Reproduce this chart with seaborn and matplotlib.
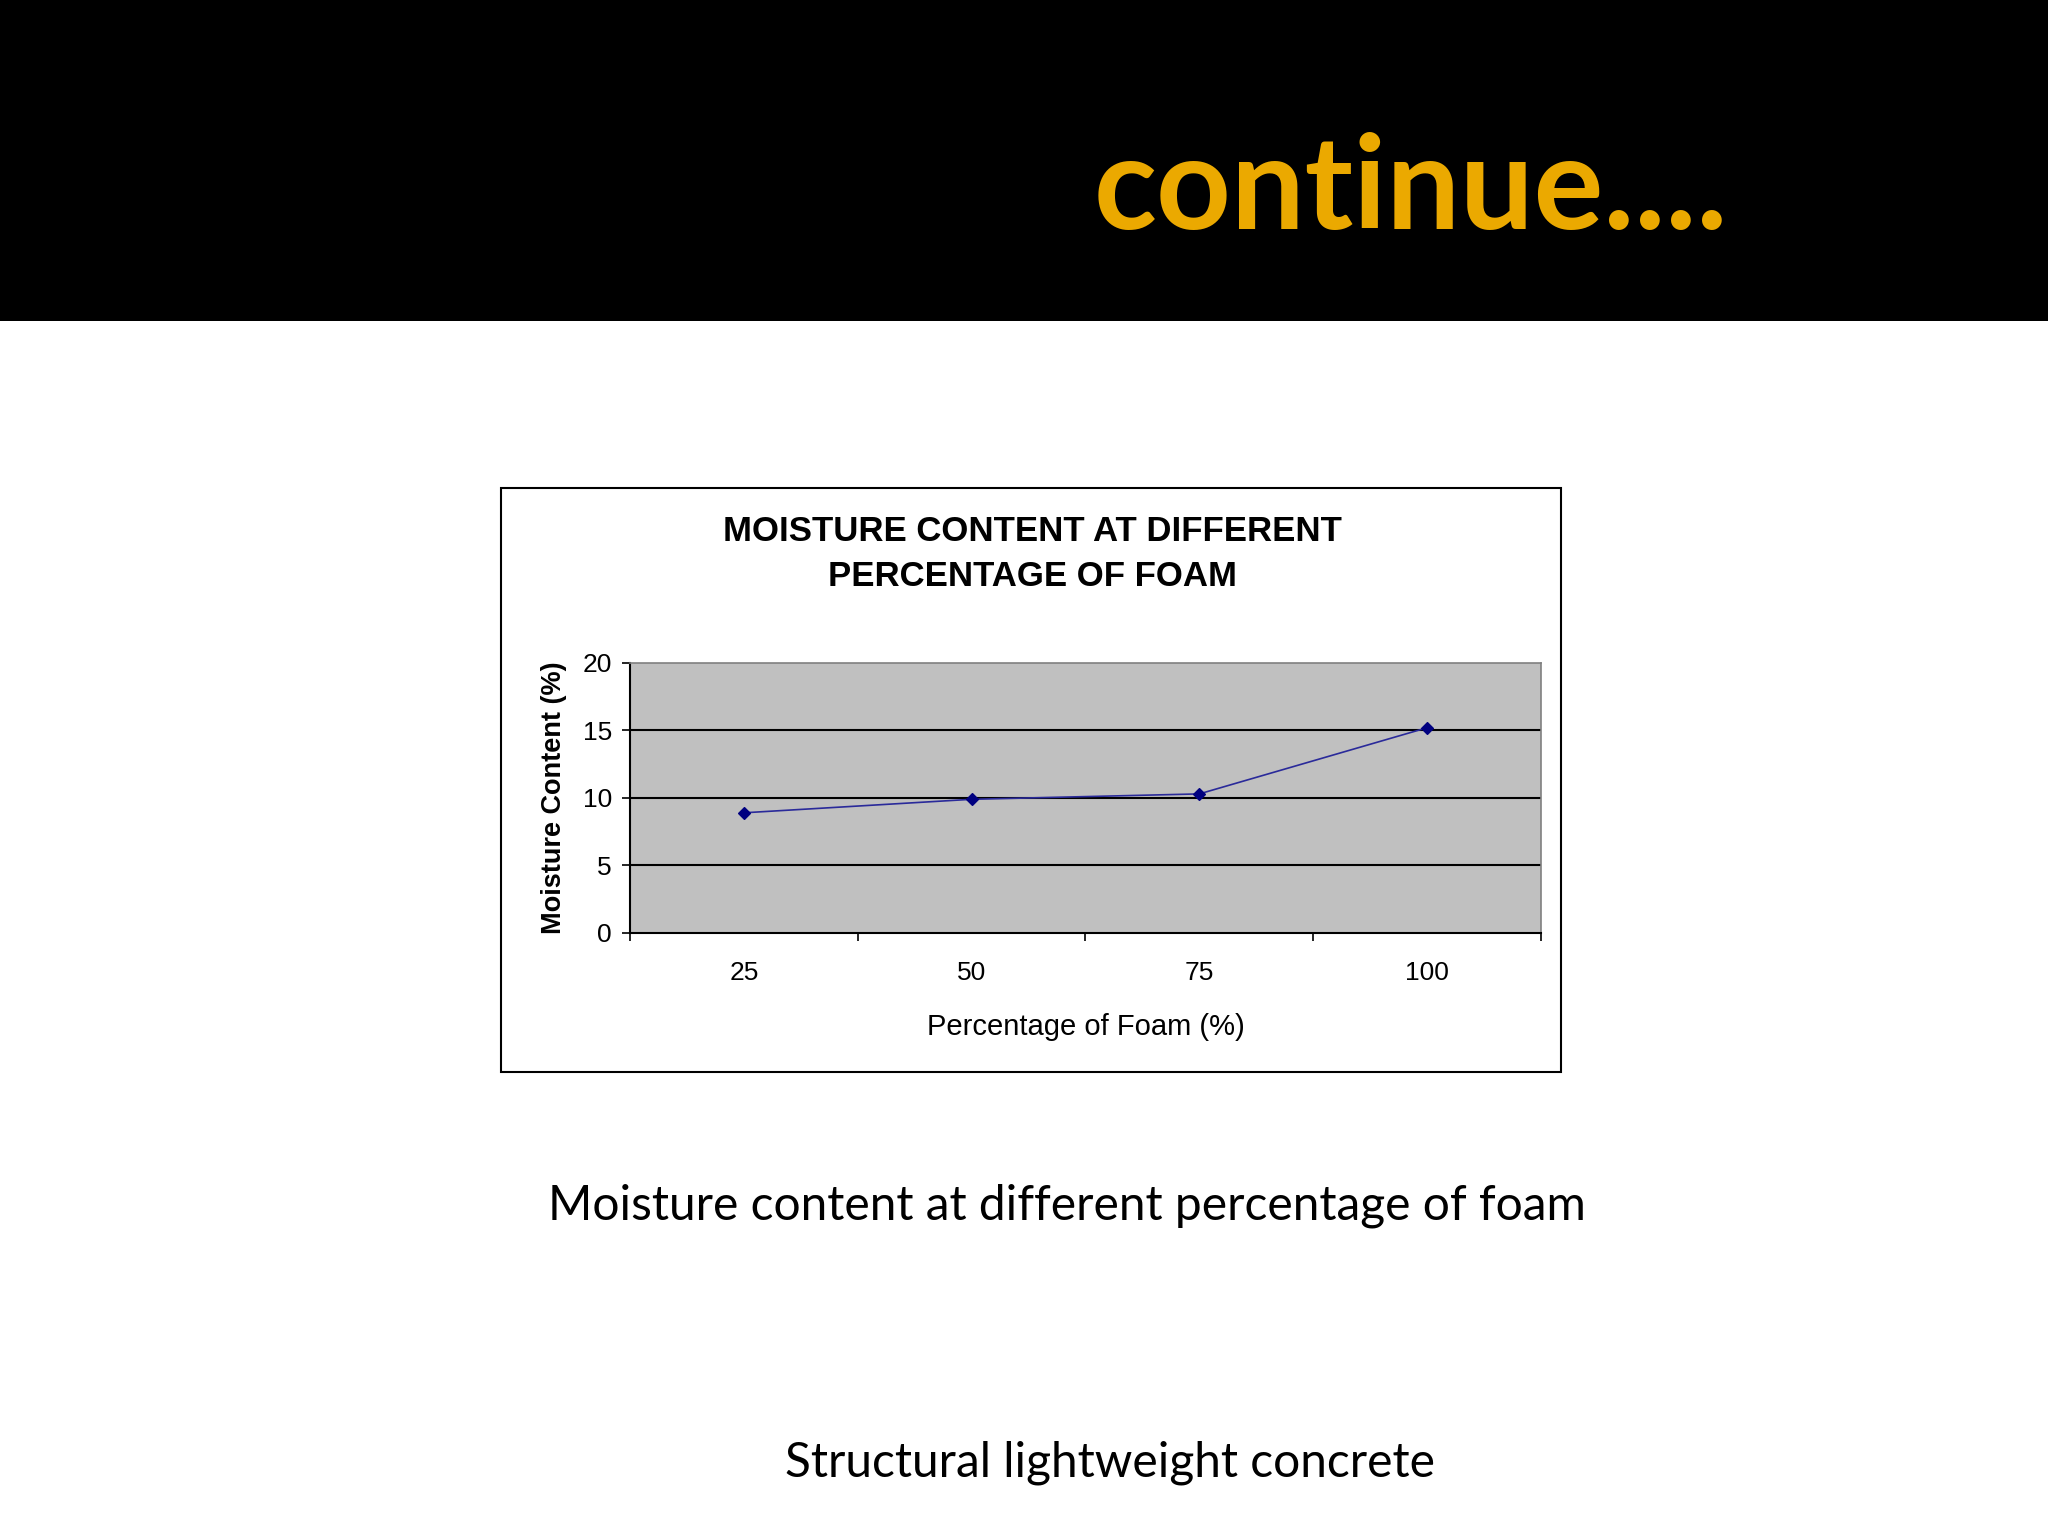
import matplotlib
matplotlib.use("Agg")
import matplotlib.pyplot as plt
from matplotlib.patches import Rectangle
import seaborn as sns

# data
foam_pct = ["25", "50", "75", "100"]
moisture = [8.9, 9.9, 10.3, 15.2]
y_ticks = [0, 5, 10, 15, 20]

slide_title = "continue...."
chart_title = "MOISTURE CONTENT AT DIFFERENT\nPERCENTAGE OF FOAM"
x_label = "Percentage of Foam (%)"
y_label = "Moisture Content (%)"
caption = "Moisture content at different percentage of foam"
footer = "Structural lightweight concrete"

sns.set_theme(style="white")
plt.rcParams["font.family"] = ["Liberation Sans", "DejaVu Sans"]
plt.rcParams["text.color"] = "black"
plt.rcParams["axes.labelcolor"] = "black"
plt.rcParams["xtick.color"] = "black"
plt.rcParams["ytick.color"] = "black"

fig = plt.figure(figsize=(20.48, 15.36), dpi=100)
fig.patch.set_facecolor("white")

# black header band
fig.patches.append(Rectangle((0, 0.791), 1, 0.209, transform=fig.transFigure,
                             facecolor="black", edgecolor="none", zorder=-2))
fig.text(0.689, 0.8755, slide_title, color="#EBA900", fontsize=94,
         fontweight="bold", family="Lato", ha="center", va="center")

# chart frame
fig.patches.append(Rectangle((0.2446, 0.3021), 0.5176, 0.3802, transform=fig.transFigure,
                             facecolor="white", edgecolor="black", linewidth=1.5, zorder=-2))

ax = fig.add_axes([0.3076, 0.3926, 0.4448, 0.1758])
ax.set_facecolor("#C0C0C0")
sns.pointplot(x=foam_pct, y=moisture, ax=ax, color="#000080", markers="D",
              markersize=6.5, linewidth=1.2, errorbar=None)
ax.lines[0].set_color("#2A2A9A")
ax.lines[0].set_markerfacecolor("#000080")
ax.lines[0].set_markeredgecolor("#000080")
ax.set_xlim(-0.5, 3.5)
ax.set_ylim(0, 20)
ax.set_yticks(y_ticks)
for v in y_ticks[1:-1]:
    ax.axhline(v, color="black", linewidth=1.5, zorder=0.5)

ax.set_xticks([-0.5, 0.5, 1.5, 2.5, 3.5], minor=True)
ax.tick_params(axis="x", which="major", length=0, pad=20, labelsize=19)
ax.tick_params(axis="x", which="minor", length=6, width=1.2, color="black", direction="out")
ax.tick_params(axis="y", length=6, width=1.2, color="black", direction="out", labelsize=19, pad=7)
ax.xaxis.set_tick_params(which="both", bottom=True)
ax.yaxis.set_tick_params(left=True)

for side in ["left", "bottom"]:
    ax.spines[side].set_color("black")
    ax.spines[side].set_linewidth(1.5)
for side in ["top", "right"]:
    ax.spines[side].set_color("#808080")
    ax.spines[side].set_linewidth(1.2)

ax.set_xlabel(x_label, fontsize=21, labelpad=20)
ax.set_ylabel(y_label, fontsize=19.5, fontweight="bold", labelpad=11)

fig.text(0.504, 0.6395, chart_title, ha="center", va="center", fontsize=25,
         fontweight="bold", linespacing=1.45)

fig.text(0.521, 0.215, caption, ha="center", va="center", fontsize=34.5, family="Lato")
fig.text(0.542, 0.048, footer, ha="center", va="center", fontsize=34.5, family="Lato")

fig.savefig("out.png", dpi=100, facecolor=fig.get_facecolor())
